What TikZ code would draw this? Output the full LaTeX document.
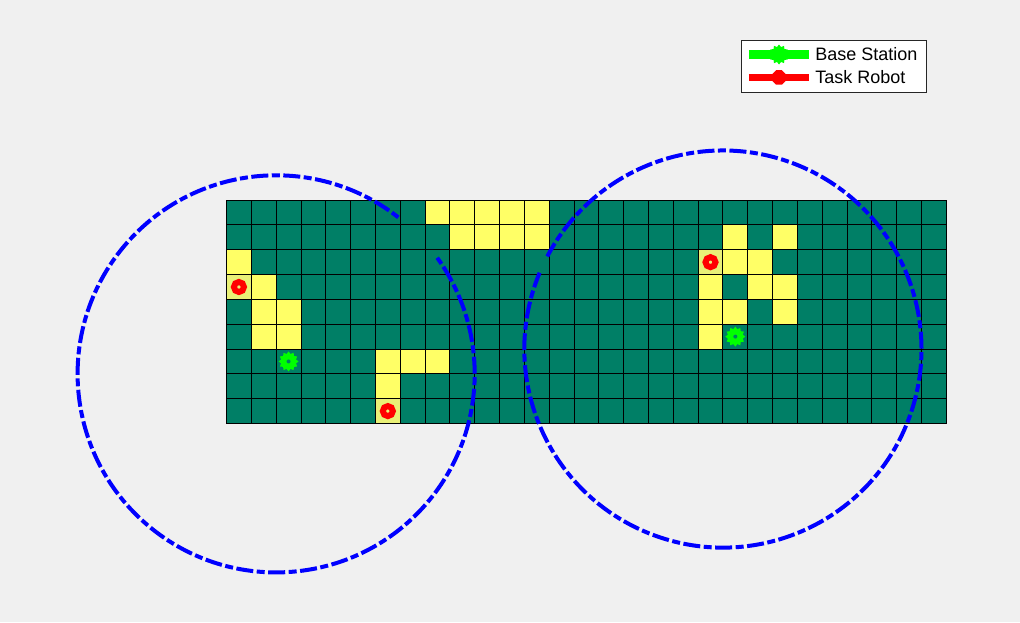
\documentclass[tikz,border=0pt]{standalone}
\usepackage{fontspec}
\setmainfont{Liberation Sans}
\usepackage{tikz}
\usetikzlibrary{shapes.geometric}

\definecolor{figgray}{HTML}{F0F0F0}
\definecolor{cellgreen}{HTML}{007F66}
\definecolor{cellyellow}{HTML}{FFFF66}
\definecolor{cellpale}{HTML}{E9F077}
\definecolor{boxedge}{HTML}{262626}

\tikzset{
    cellfree/.style={fill=cellyellow},
    cellvisited/.style={fill=cellpale},
    stationrange/.style={draw=blue, line width=4pt, dash pattern=on 17pt off 3.5pt on 8pt off 3.5pt},
    basemark/.style={star, star points=12, star point ratio=1.3, inner sep=0pt, minimum size=20pt, fill=green,
        path picture={\fill[cellgreen] (path picture bounding box.center) circle (2pt);}},
    robotmark/.style={circle, inner sep=0pt, minimum size=10pt, draw=red, line width=6pt},
    legendtext/.style={anchor=west, inner sep=0pt, font={\fontsize{18pt}{20pt}\selectfont}, text=black}
}

\begin{document}
\begin{tikzpicture}[x=24.82pt, y=24.82pt]
        \useasboundingbox[fill=figgray] (-9.126, -7.998) rectangle (31.97, 17.063);

        % map
        \fill[cellgreen] (0, 0) rectangle (29, 9);
        \fill[cellfree] (8, 8) rectangle (13, 9);
        \fill[cellfree] (9, 7) rectangle (13, 8);
        \fill[cellfree] (20, 7) rectangle (21, 8);
        \fill[cellfree] (22, 7) rectangle (23, 8);
        \fill[cellfree] (0, 6) rectangle (1, 7);
        \fill[cellfree] (20, 6) rectangle (22, 7);
        \fill[cellfree] (1, 5) rectangle (2, 6);
        \fill[cellfree] (19, 5) rectangle (20, 6);
        \fill[cellfree] (21, 5) rectangle (23, 6);
        \fill[cellfree] (1, 3) rectangle (3, 5);
        \fill[cellfree] (19, 3) rectangle (20, 5);
        \fill[cellfree] (20, 4) rectangle (21, 5);
        \fill[cellfree] (22, 4) rectangle (23, 5);
        \fill[cellfree] (6, 2) rectangle (9, 3);
        \fill[cellfree] (6, 1) rectangle (7, 2);
        \fill[cellvisited] (19, 6) rectangle (20, 7);
        \fill[cellvisited] (0, 5) rectangle (1, 6);
        \fill[cellvisited] (6, 0) rectangle (7, 1);
        \draw[step=1, color=black, line width=0.9pt] (0, 0) grid (29, 9);

        % range of the base stations
        \coordinate (leftcentre) at (2, 2);
        \coordinate (rightcentre) at (20, 3);
        \draw[stationrange, dash phase=18.7pt] (leftcentre) ++(51.5:8) arc[start angle=51.5, end angle=395.8, radius=8];
        \draw[stationrange, dash phase=1.5pt] (rightcentre) ++(157.4:8) arc[start angle=157.4, end angle=512.2, radius=8];

        % stations and robots
        \node[basemark] (baseleft) at (2.5, 2.5) {};
        \node[basemark] (baseright) at (20.5, 3.5) {};
        \node[robotmark] (robotleft) at (0.5, 5.5) {};
        \node[robotmark] (robotbottom) at (6.5, 0.5) {};
        \node[robotmark] (robotright) at (19.5, 6.5) {};

        % legend
        \node[draw=boxedge, fill=white, line width=0.9pt, minimum width=184.5pt, minimum height=52pt, inner sep=0pt] (legendbox) at (24.465, 14.405) {};
        \coordinate (basestart) at (21.05, 14.867);
        \coordinate (baseend) at (23.47, 14.867);
        \coordinate (robotstart) at (21.05, 13.945);
        \coordinate (robotend) at (23.47, 13.945);
        \draw[green, line width=9pt] (basestart) -- (baseend);
        \draw[red, line width=7pt] (robotstart) -- (robotend);
        \node[star, star points=12, star point ratio=1.3, inner sep=0pt, minimum size=20pt, fill=green] (legendbase) at (22.26, 14.867) {};
        \node[regular polygon, regular polygon sides=8, inner sep=0pt, minimum size=15.5pt, fill=red] (legendrobot) at (22.26, 13.945) {};
        \node[legendtext] (basetext) at (23.72, 14.867) {Base Station};
        \node[legendtext] (robottext) at (23.72, 13.945) {Task Robot};
    \end{tikzpicture}
\end{document}
